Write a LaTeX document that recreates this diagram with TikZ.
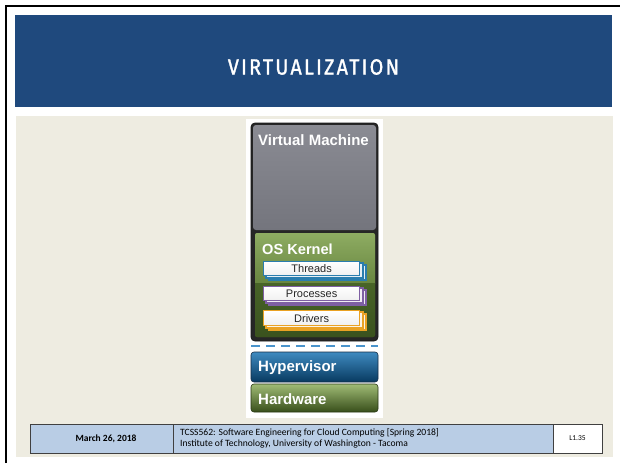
\documentclass[tikz,border=0pt]{standalone}
\usepackage{fontspec}
\setmainfont{Liberation Sans}
\newfontfamily\footfont{Carlito}
\newfontfamily\titlefont[FakeStretch=0.9, LetterSpace=10, FakeBold=1.3]{Fira Sans}
\definecolor{titleblue}{HTML}{1F497D}
\definecolor{beige}{HTML}{EEECE1}
\definecolor{footblue}{HTML}{B9CDE5}
\definecolor{footline}{HTML}{404040}
\definecolor{vmdark}{HTML}{262626}
\definecolor{vmtop}{HTML}{8A8B93}
\definecolor{vmbot}{HTML}{74757D}
\definecolor{thrblue}{HTML}{2A7DAE}
\definecolor{procpurple}{HTML}{7E5FA3}
\definecolor{drvorange}{HTML}{EAA224}
\definecolor{dashblue}{HTML}{4A94CC}
\tikzset{
  boxtext/.style={text=white, font=\bfseries\fontsize{15}{15}\selectfont, anchor=west, inner sep=0pt},
  smalltext/.style={text=black!85, font=\fontsize{11}{11}\selectfont, inner sep=0pt},
  footcell/.style={draw=footline, line width=0.9pt},
  stackfront/.style={draw=#1, line width=1.2pt, top color=white, bottom color=black!6},
  stackback/.style={draw=#1, line width=1.2pt, fill=#1!12},
}
\begin{document}
\begin{tikzpicture}[x=1pt,y=1pt]
\useasboundingbox (0,-463) rectangle (620,0);
\fill[white] (0,-463) rectangle (620,0);
% outer frame
\draw[line width=2.4pt, black] (6,-463) -- (6,-6) -- (620,-6);
% title band
\fill[titleblue] (15,-15) rectangle (612,-107);
\node[text=white, font=\titlefont\fontsize{22}{22}\selectfont, inner sep=0pt] (title) at (313.5,-67) {VIRTUALIZATION};
% content area
\fill[beige] (16,-116) rectangle (613,-457);
% diagram backing
\fill[white] (246,-119) rectangle (383,-418);
% virtual machine
\draw[draw=black!90, fill=vmdark, rounded corners=4pt, line width=0.8pt] (251,-123) rectangle (378,-341);
\shade[top color=vmtop, bottom color=vmbot, rounded corners=3pt] (253,-125) rectangle (376,-230);
\node[boxtext] (vm) at (258,-140) {Virtual Machine};
% OS kernel
\fill[rounded corners=2pt, color={rgb,255:red,62;green,88;blue,32}] (255,-233) rectangle (375,-337);
\begin{scope}
\clip[rounded corners=2pt] (255,-233) rectangle (375,-337);
\shade[top color={rgb,255:red,142;green,172;blue,98}, bottom color={rgb,255:red,104;green,134;blue,64}] (255,-233) rectangle (375,-283);
\shade[top color={rgb,255:red,72;green,100;blue,40}, bottom color={rgb,255:red,58;green,82;blue,30}] (255,-283) rectangle (375,-337);
\end{scope}
\node[boxtext, font=\bfseries\fontsize{14.6}{14.6}\selectfont] (kernel) at (262,-249) {OS Kernel};
% threads
\draw[stackback=thrblue] (269,-265) rectangle (366,-280);
\draw[stackback=thrblue] (266,-263) rectangle (363,-278);
\node[stackfront=thrblue, minimum width=96pt, minimum height=14pt, inner sep=0pt, anchor=north west, smalltext] (threads) at (263,-261) {Threads};
% processes
\draw[stackback=procpurple] (269,-290) rectangle (366,-305);
\draw[stackback=procpurple] (266,-288) rectangle (363,-303);
\node[stackfront=procpurple, minimum width=96pt, minimum height=14pt, inner sep=0pt, anchor=north west, smalltext] (processes) at (263,-286) {Processes};
% drivers
\draw[stackback=drvorange] (269,-314) rectangle (366,-330);
\draw[stackback=drvorange] (266,-312) rectangle (363,-328);
\node[stackfront=drvorange, minimum width=96pt, minimum height=15pt, inner sep=0pt, anchor=north west, smalltext] (drivers) at (263,-310) {Drivers};
% dashed separator
\coordinate (dashL) at (251,-346);
\coordinate (dashR) at (378,-346);
\draw[dashblue, line width=2.6pt, dash pattern=on 9pt off 6pt] (dashL) -- (dashR);
% hypervisor
\shade[rounded corners=3pt, top color={rgb,255:red,62;green,138;blue,192}, middle color={rgb,255:red,14;green,84;blue,132}, bottom color={rgb,255:red,8;green,58;blue,96}] (251,-352) rectangle (378,-382);
\draw[rounded corners=3pt, color={rgb,255:red,20;green,45;blue,70}, line width=0.6pt] (251,-352) rectangle (378,-382);
\node[boxtext] (hyper) at (258,-368) {Hypervisor};
% hardware
\shade[rounded corners=3pt, top color={rgb,255:red,160;green,188;blue,118}, middle color={rgb,255:red,84;green,110;blue,46}, bottom color={rgb,255:red,56;green,78;blue,26}] (251,-384) rectangle (378,-412);
\draw[rounded corners=3pt, color={rgb,255:red,40;green,55;blue,20}, line width=0.6pt] (251,-384) rectangle (378,-412);
\node[boxtext] (hw) at (258,-399.5) {Hardware};
% footer
\draw[footcell, fill=footblue] (30,-424) rectangle (173,-453);
\draw[footcell, fill=footblue] (173,-424) rectangle (553,-453);
\draw[footcell, fill=white] (553,-424) rectangle (602,-453);
\node[font=\footfont\bfseries\fontsize{9.5}{9.5}\selectfont, inner sep=0pt] (date) at (106,-438.5) {March 26, 2018};
\node[font=\footfont\fontsize{9.6}{10.8}\selectfont, anchor=west, align=left, inner sep=0pt] (course) at (180,-438.5) {TCSS562: Software Engineering for Cloud Computing [Spring 2018]\\Institute of Technology, University of Washington - Tacoma};
\node[font=\footfont\fontsize{7.5}{7.5}\selectfont, inner sep=0pt] (slide) at (577.5,-438.5) {L1.35};
\end{tikzpicture}
\end{document}
